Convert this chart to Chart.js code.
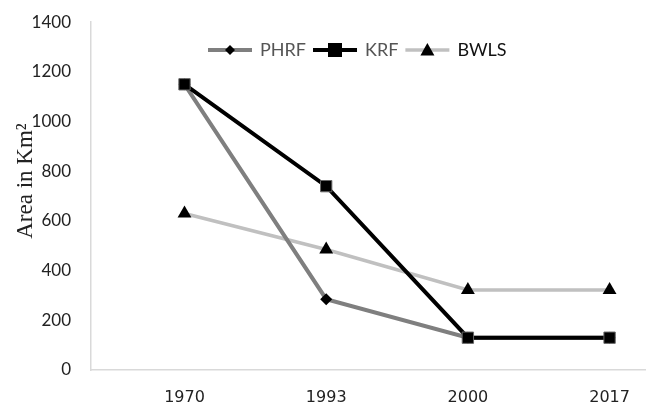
<!DOCTYPE html>
<html>
<head>
<meta charset="utf-8">
<script src="https://cdn.jsdelivr.net/npm/chart.js@4"></script>
<style>
  html, body { margin: 0; padding: 0; background: #fff; }
  #wrap { width: 654px; height: 410px; }
</style>
</head>
<body>
<div id="wrap"><canvas id="areaChart"></canvas></div>
<script>
// Chart values
const years = ["1970", "1993", "2000", "2017"];
const phrf = [1150, 285, 130, 130];
const krf = [1150, 740, 130, 130];
const bwls = [630, 485, 322, 322];
const yTicks = [0, 200, 400, 600, 800, 1000, 1200, 1400];
const yTitle = "Area in Km²";

// Draw one marker shape centred on (x, y)
function drawMarker(ctx, shape, x, y, s) {
    ctx.fillStyle = "#000";
    ctx.beginPath();
    if (shape === "diamond") {
        ctx.moveTo(x, y - s);
        ctx.lineTo(x + s, y);
        ctx.lineTo(x, y + s);
        ctx.lineTo(x - s, y);
    } else if (shape === "square") {
        ctx.rect(x - s, y - s, s * 2, s * 2);
    } else {
        ctx.moveTo(x, y - s);
        ctx.lineTo(x + s, y + s * 0.8);
        ctx.lineTo(x - s, y + s * 0.8);
    }
    ctx.closePath();
    ctx.fill();
}

const toPoints = arr => arr.map((v, i) => ({ x: i, y: v }));

const datasets = [
    {
        label: "PHRF",
        data: toPoints(phrf),
        borderColor: "#7f7f7f",
        borderWidth: 4,
        pointStyle: "rectRot",
        pointRadius: 6,
        pointBackgroundColor: "#000",
        pointBorderColor: "#000",
        pointBorderWidth: 0,
        order: 1,
        marker: "diamond",
        markerSize: 5,
        textColor: "#555"
    },
    {
        label: "KRF",
        data: toPoints(krf),
        borderColor: "#000",
        borderWidth: 4,
        pointStyle: "rect",
        pointRadius: 8,
        pointBackgroundColor: "#000",
        pointBorderColor: "#666",
        pointBorderWidth: 1,
        order: 0,
        marker: "square",
        markerSize: 7,
        textColor: "#555"
    },
    {
        label: "BWLS",
        data: toPoints(bwls),
        borderColor: "#c0c0c0",
        borderWidth: 3.5,
        pointStyle: "triangle",
        pointRadius: 8,
        pointBackgroundColor: "#000",
        pointBorderColor: "#000",
        pointBorderWidth: 0,
        order: 2,
        marker: "triangle",
        markerSize: 7,
        textColor: "#111"
    }
];

// Legend inside the plot + the rotated y title (sits a bit above centre in the original)
const insideLegend = {
    id: "insideLegend",
    afterDraw(chart) {
        const ctx = chart.ctx;
        let x = 208;
        const y = 50;
        ctx.save();
        ctx.font = "18px Lato";
        ctx.textBaseline = "middle";
        chart.data.datasets.forEach(ds => {
            ctx.strokeStyle = ds.borderColor;
            ctx.lineWidth = ds.borderWidth;
            ctx.beginPath();
            ctx.moveTo(x, y);
            ctx.lineTo(x + 44, y);
            ctx.stroke();
            drawMarker(ctx, ds.marker, x + 22, y, ds.markerSize);
            x += 52;
            ctx.fillStyle = ds.textColor;
            ctx.fillText(ds.label, x, y);
            x += ctx.measureText(ds.label).width + 7;
        });

        ctx.translate(32, 181);
        ctx.rotate(-Math.PI / 2);
        ctx.font = "23px 'Liberation Serif'";
        ctx.textAlign = "center";
        ctx.textBaseline = "alphabetic";
        ctx.fillStyle = "#222";
        ctx.fillText(yTitle, 0, 0);
        ctx.restore();
    }
};

new Chart(document.getElementById("areaChart"), {
    type: "line",
    data: { datasets: datasets },
    plugins: [insideLegend],
    options: {
        responsive: true,
        maintainAspectRatio: false,
        animation: false,
        layout: { padding: { top: -6, right: 4, left: 0, bottom: 0 } },
        plugins: {
            tooltip: { enabled: false },
            legend: { display: false }
        },
        scales: {
            x: {
                type: "linear",
                min: -0.66,
                max: 3.25,
                grid: { display: false },
                border: { color: "#d9d9d9", width: 1.5 },
                afterBuildTicks: scale => {
                    scale.ticks = years.map((_, i) => ({ value: i }));
                },
                afterFit: scale => { scale.height = 40; },
                ticks: {
                    padding: 10,
                    color: "#222",
                    font: { family: "DejaVu Sans", size: 16 },
                    callback: v => years[v]
                }
            },
            y: {
                min: 0,
                max: 1400,
                grid: { display: false },
                border: { color: "#d9d9d9", width: 1.5 },
                afterBuildTicks: scale => {
                    scale.ticks = yTicks.map(v => ({ value: v }));
                },
                afterFit: scale => { scale.width = 91; },
                ticks: {
                    padding: 12,
                    color: "#222",
                    font: { family: "Lato", size: 17 },
                    callback: v => String(v)
                }
            }
        }
    }
});
</script>
</body>
</html>
